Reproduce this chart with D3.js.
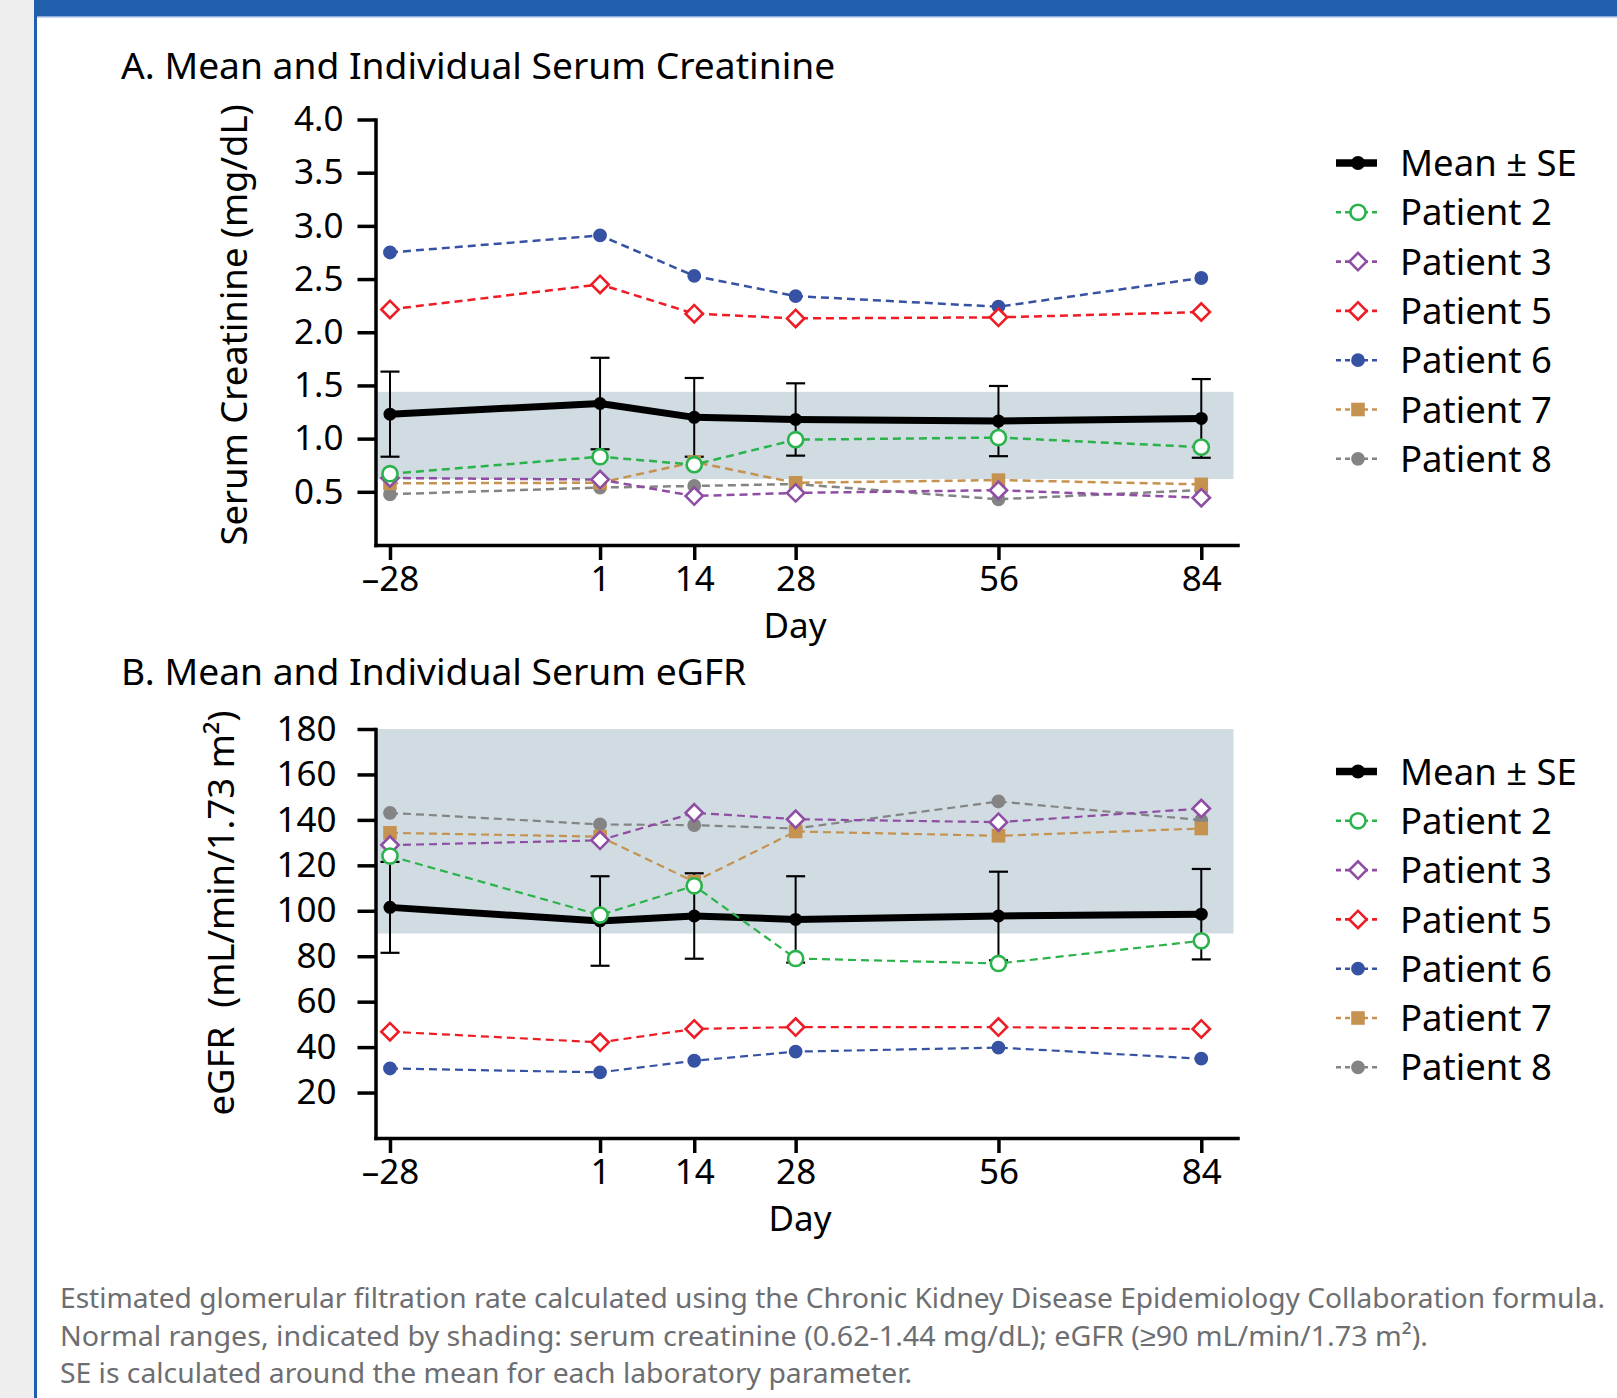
<!DOCTYPE html>
<html><head><meta charset="utf-8">
<script src="https://cdn.jsdelivr.net/npm/d3@7"></script>
<style>
body{margin:0;background:#fff}
svg{display:block}
text{font-family:"Noto Sans",sans-serif}
</style>
</head><body>
<svg id="c" width="1617" height="1398"></svg>
<script>
// ---------- DATA ----------
const days = [-28, 1, 14, 28, 56, 84];
const dayTickLabels = ["\u201328", "1", "14", "28", "56", "84"];
const seriesNames = ["Mean \u00b1 SE", "Patient 2", "Patient 3", "Patient 5", "Patient 6", "Patient 7", "Patient 8"];

// Panel A: serum creatinine (mg/dL)
const creatTicks = [0.5, 1.0, 1.5, 2.0, 2.5, 3.0, 3.5, 4.0];
const creatNormal = [0.62, 1.44];
const creatMean = [1.23, 1.33, 1.20, 1.18, 1.165, 1.19];
const creatSE   = [0.40, 0.43, 0.37, 0.34, 0.33, 0.37];
const creatP2 = [0.67, 0.83, 0.755, 0.99, 1.01, 0.92];
const creatP3 = [0.63, 0.615, 0.46, 0.49, 0.515, 0.445];
const creatP5 = [2.215, 2.45, 2.175, 2.13, 2.14, 2.19];
const creatP6 = [2.75, 2.91, 2.53, 2.34, 2.24, 2.51];
const creatP7 = [0.58, 0.585, 0.78, 0.585, 0.61, 0.57];
const creatP8 = [0.477, 0.54, 0.555, 0.573, 0.43, 0.517];

// Panel B: eGFR (mL/min/1.73 m2)
const egfrTicks = [20, 40, 60, 80, 100, 120, 140, 160, 180];
const egfrNormal = [90, 180];
const egfrMean = [101.5, 95.5, 97.7, 96.2, 97.7, 98.5];
const egfrSE   = [20, 19.7, 18.8, 19, 19.5, 19.9];
const egfrP2 = [124.1, 98.1, 111, 79, 76.8, 86.8];
const egfrP3 = [128.9, 131, 143.1, 140.3, 139, 145];
const egfrP5 = [46.8, 42.1, 48, 48.8, 48.8, 48];
const egfrP6 = [30.6, 28.9, 34, 38, 39.8, 34.9];
const egfrP7 = [134.3, 132.6, 112.8, 134.9, 133, 136.2];
const egfrP8 = [143.1, 138, 137.7, 136.2, 148.1, 139.9];

const captionLines = [
  "Estimated glomerular filtration rate calculated using the Chronic Kidney Disease Epidemiology Collaboration formula.",
  "Normal ranges, indicated by shading: serum creatinine (0.62-1.44 mg/dL); eGFR (\u226590 mL/min/1.73 m\u00b2).",
  "SE is calculated around the mean for each laboratory parameter."
];

// ---------- STYLES ----------
const patientStyles = [
  {color: "#2bb34b", marker: "circleOpen"},
  {color: "#8f4ea3", marker: "diamond"},
  {color: "#ee1c25", marker: "diamond"},
  {color: "#3652a3", marker: "circle"},
  {color: "#c69250", marker: "square"},
  {color: "#848484", marker: "circle"}
];
const drawOrder = [5, 4, 3, 2, 1, 0]; // P8, P7, P6, P5, P3, P2

const svg = d3.select("#c");
svg.append("rect").attr("width", 1617).attr("height", 1398).attr("fill", "#fff");
// frame
svg.append("rect").attr("x", 0).attr("y", 0).attr("width", 34).attr("height", 1398).attr("fill", "#eeeeee");
svg.append("rect").attr("x", 34).attr("y", 0).attr("width", 3).attr("height", 1398).attr("fill", "#215fad");
svg.append("rect").attr("x", 34).attr("y", 0).attr("width", 1583).attr("height", 16.5).attr("fill", "#215fad");
svg.append("rect").attr("x", 37).attr("y", 16.5).attr("width", 1580).attr("height", 1).attr("fill", "#8fb0dc");

const x = d3.scaleLinear().domain([-30, 89]).range([375.5, 1237.5]);

function markerPath(type) {
  if (type === "circleOpen") return d3.symbol(d3.symbolCircle, 180)();
  if (type === "circle") return d3.symbol(d3.symbolCircle, 150)();
  if (type === "square") return d3.symbol(d3.symbolSquare, 185)();
  if (type === "diamond") return d3.symbol(d3.symbolSquare, 150)();
}
function drawMarker(sel, st, lw) {
  const p = sel.append("path").attr("d", markerPath(st.marker));
  if (st.marker === "circleOpen" || st.marker === "diamond") {
    p.attr("fill", "#fff").attr("stroke", st.color).attr("stroke-width", lw);
  } else {
    p.attr("fill", st.color);
  }
  if (st.marker === "diamond") p.attr("transform", "rotate(45)");
  return p;
}

function panel(cfg) {
  const y = d3.scaleLinear().domain(cfg.domain).range(cfg.range);
  const g = svg.append("g");
  g.append("text").attr("x", 121).attr("y", cfg.titleY).attr("font-size", 37.2).attr("fill", "#000").text(cfg.title);

  // normal-range shading
  g.append("rect")
    .attr("x", x.range()[0] + 2)
    .attr("width", x.range()[1] - x.range()[0] - 6)
    .attr("y", y(cfg.band[1]))
    .attr("height", y(cfg.band[0]) - y(cfg.band[1]))
    .attr("fill", "#d0dbe2");

  // axes
  const ya = g.append("g").attr("transform", `translate(${x.range()[0]},0)`)
    .call(d3.axisLeft(y).tickValues(cfg.ticks).tickFormat(cfg.fmt).tickSize(18).tickSizeOuter(0).tickPadding(cfg.yPad));
  const xa = g.append("g").attr("transform", `translate(0,${cfg.range[0]})`)
    .call(d3.axisBottom(x).tickValues(days).tickFormat((d, i) => dayTickLabels[i]).tickSize(15).tickSizeOuter(0).tickPadding(6));
  [ya, xa].forEach(a => {
    a.attr("font-family", null).attr("font-size", 35);
    a.select(".domain").attr("stroke", "#000").attr("stroke-width", 3.5).attr("stroke-linecap", "square");
    a.selectAll(".tick line").attr("stroke", "#000").attr("stroke-width", 3.5);
    a.selectAll(".tick text").attr("fill", "#000");
  });

  // axis titles
  g.append("text").attr("transform", `translate(${cfg.yTitleX},${cfg.yTitleY}) rotate(-90)`)
    .attr("text-anchor", "middle").attr("font-size", 36.5).style("white-space", "pre").text(cfg.yTitle);
  g.append("text").attr("x", cfg.dayX).attr("y", cfg.range[0] + 93).attr("text-anchor", "middle")
    .attr("font-size", 35).text("Day");

  // mean ± SE
  const mg = g.append("g");
  days.forEach((d, i) => {
    const cx = x(d), y1 = y(cfg.mean[i] + cfg.se[i]), y0 = y(cfg.mean[i] - cfg.se[i]);
    mg.append("line").attr("x1", cx).attr("x2", cx).attr("y1", y1).attr("y2", y0).attr("stroke", "#000").attr("stroke-width", 2);
    [y0, y1].forEach(yy => mg.append("line").attr("x1", cx - 9.5).attr("x2", cx + 9.5).attr("y1", yy).attr("y2", yy)
      .attr("stroke", "#000").attr("stroke-width", 2.2));
  });
  const line = d3.line().x((d, i) => x(days[i])).y(d => y(d));
  mg.append("path").attr("d", line(cfg.mean)).attr("fill", "none").attr("stroke", "#000")
    .attr("stroke-width", 7).attr("stroke-linejoin", "round");
  cfg.mean.forEach((v, i) => mg.append("circle").attr("cx", x(days[i])).attr("cy", y(v)).attr("r", 6.5).attr("fill", "#000"));

  // patients
  drawOrder.forEach(k => {
    const st = patientStyles[k], vals = cfg.patients[k];
    const pg = g.append("g");
    pg.append("path").attr("d", line(vals)).attr("fill", "none").attr("stroke", st.color)
      .attr("stroke-width", cfg.lw).attr("stroke-dasharray", "8,5");
    vals.forEach((v, i) => {
      const mk = pg.append("g").attr("transform", `translate(${x(days[i])},${y(v)})`);
      drawMarker(mk, st, 2.6);
    });
  });

  // legend
  const lg = g.append("g");
  seriesNames.forEach((name, i) => {
    const ly = cfg.legendY + i * 49.3;
    const row = lg.append("g").attr("transform", `translate(0,${ly})`);
    if (i === 0) {
      row.append("line").attr("x1", 1336).attr("x2", 1377).attr("y1", 0).attr("y2", 0).attr("stroke", "#000").attr("stroke-width", 7.5);
      row.append("circle").attr("cx", 1358).attr("cy", 0).attr("r", 7).attr("fill", "#000");
    } else {
      const st = patientStyles[i - 1];
      row.append("line").attr("x1", 1336).attr("x2", 1378).attr("y1", 0).attr("y2", 0).attr("stroke", st.color)
        .attr("stroke-width", 2.6).attr("stroke-dasharray", "5,4");
      const mk = row.append("g").attr("transform", "translate(1358,0)");
      drawMarker(mk, st, 2.6);
    }
    row.append("text").attr("x", 1400).attr("y", 0).attr("dy", "0.36em").attr("font-size", 36.5).attr("fill", "#000").text(name);
  });
}

panel({
  title: "A. Mean and Individual Serum Creatinine", titleY: 79,
  domain: [0, 4], range: [545, 119.5], ticks: creatTicks, fmt: d3.format(".1f"), yPad: 14,
  band: creatNormal, mean: creatMean, se: creatSE,
  patients: [creatP2, creatP3, creatP5, creatP6, creatP7, creatP8],
  yTitle: "Serum Creatinine (mg/dL)", yTitleX: 247, yTitleY: 325, dayX: 795,
  legendY: 163, lw: 2.5
});
panel({
  title: "B. Mean and Individual Serum eGFR", titleY: 685,
  domain: [0, 180], range: [1138, 729], ticks: egfrTicks, fmt: d3.format("d"), yPad: 21,
  band: egfrNormal, mean: egfrMean, se: egfrSE,
  patients: [egfrP2, egfrP3, egfrP5, egfrP6, egfrP7, egfrP8],
  yTitle: "eGFR  (mL/min/1.73 m\u00b2)", yTitleX: 234, yTitleY: 913, dayX: 800,
  legendY: 771.5, lw: 2.2
});

// caption
const capW = [1545, 1368, 852];
captionLines.forEach((t, i) => {
  svg.append("text").attr("x", 60).attr("y", 1308 + i * 37.6).attr("font-size", 28).attr("fill", "#6d6e71")
    .attr("textLength", capW[i]).attr("lengthAdjust", "spacingAndGlyphs").text(t);
});
</script>
</body></html>
